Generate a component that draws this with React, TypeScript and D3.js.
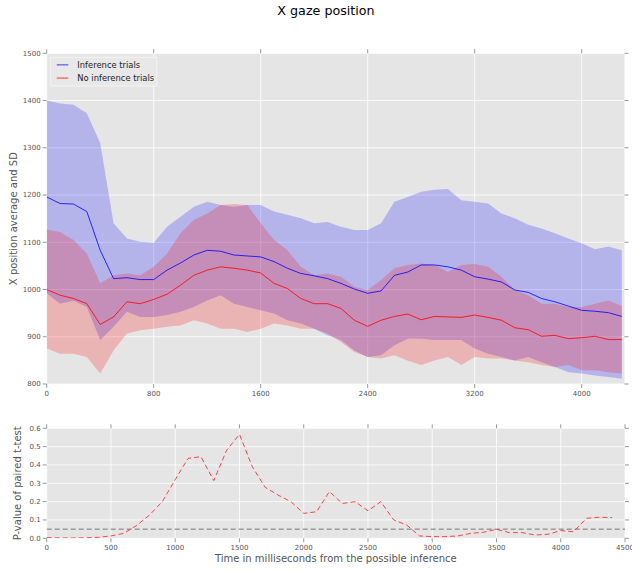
import React from "react";
import * as d3 from "d3";

// time in ms from the possible inference
const times = [
  0, 100, 200, 300, 400, 500, 600, 700, 800, 900, 1000, 1100, 1200, 1300, 1400,
  1500, 1600, 1700, 1800, 1900, 2000, 2100, 2200, 2300, 2400, 2500, 2600, 2700,
  2800, 2900, 3000, 3100, 3200, 3300, 3400, 3500, 3600, 3700, 3800, 3900, 4000,
  4100, 4200, 4300,
];

const infMean = [
  1196, 1182, 1181, 1165, 1083, 1023, 1025, 1021, 1021, 1041, 1056, 1073, 1083,
  1081, 1073, 1071, 1069, 1059, 1045, 1034, 1029, 1023, 1013, 1001, 992, 997,
  1030, 1037, 1052, 1052, 1048, 1041, 1027, 1022, 1016, 999, 994, 981, 974, 965,
  956, 954, 951, 943,
];
const infUpper = [
  1400, 1394, 1391, 1373, 1310, 1140, 1108, 1101, 1099, 1133, 1154, 1175, 1186,
  1179, 1175, 1179, 1179, 1165, 1158, 1151, 1140, 1143, 1133, 1126, 1126, 1140,
  1186, 1196, 1207, 1211, 1213, 1189, 1186, 1182, 1161, 1151, 1137, 1129, 1119,
  1108, 1098, 1085, 1091, 1083,
];
const infLower = [
  992, 970, 976, 963, 893, 921, 953, 942, 942, 946, 953, 963, 977, 988, 970, 963,
  956, 949, 935, 928, 917, 903, 893, 871, 857, 861, 882, 896, 896, 893, 893, 893,
  875, 864, 857, 850, 857, 846, 836, 825, 822, 818, 815, 811,
];

const noInfMean = [
  1000, 988, 981, 970, 926, 942, 974, 970, 979, 990, 1009, 1030, 1041, 1048,
  1045, 1041, 1035, 1013, 1002, 981, 970, 970, 960, 935, 922, 935, 943, 948, 936,
  943, 942, 941, 946, 941, 935, 919, 915, 901, 903, 896, 898, 901, 894, 894,
];
const noInfUpper = [
  1127, 1122, 1105, 1076, 1013, 1030, 1034, 1030, 1048, 1076, 1119, 1147, 1161,
  1179, 1181, 1179, 1140, 1105, 1083, 1048, 1030, 1034, 1027, 1006, 999, 1020,
  1045, 1052, 1055, 1052, 1037, 1052, 1054, 1048, 1027, 999, 988, 970, 970, 963,
  963, 970, 977, 965,
];
const noInfLower = [
  875, 864, 864, 857, 822, 871, 907, 914, 917, 921, 924, 935, 928, 917, 917, 910,
  917, 928, 924, 917, 917, 907, 889, 868, 857, 854, 861, 849, 840, 850, 857, 840,
  857, 854, 854, 850, 846, 840, 836, 840, 829, 829, 825, 822,
];

const pTimes = [
  0, 100, 200, 300, 400, 500, 600, 700, 800, 900, 1000, 1100, 1200, 1300, 1400,
  1500, 1600, 1700, 1800, 1900, 2000, 2100, 2200, 2300, 2400, 2500, 2600, 2700,
  2800, 2900, 3000, 3100, 3200, 3300, 3400, 3500, 3600, 3700, 3800, 3900, 4000,
  4100, 4200, 4300, 4400,
];
const pValues = [
  0.004, 0.002, 0.002, 0.003, 0.005, 0.013, 0.027, 0.07, 0.127, 0.2, 0.32, 0.436,
  0.445, 0.315, 0.48, 0.567, 0.39, 0.278, 0.236, 0.2, 0.136, 0.145, 0.255, 0.19,
  0.2, 0.15, 0.2, 0.1, 0.073, 0.013, 0.009, 0.009, 0.013, 0.027, 0.033, 0.049,
  0.031, 0.031, 0.018, 0.022, 0.042, 0.036, 0.109, 0.115, 0.113,
];
const alphaLevel = 0.05;

const topXTicks = [0, 800, 1600, 2400, 3200, 4000];
const topYTicks = [800, 900, 1000, 1100, 1200, 1300, 1400, 1500];
const botXTicks = [0, 500, 1000, 1500, 2000, 2500, 3000, 3500, 4000, 4500];
const botYTicks = [0.0, 0.1, 0.2, 0.3, 0.4, 0.5, 0.6];

const legendItems = [
  { label: "Inference trials", color: "#0000ff" },
  { label: "No inference trials", color: "#ff0000" },
];

const FONT = "DejaVu Sans, sans-serif";
const TICK = "#555555";
const BG = "#e5e5e5";

const top = { left: 46.7, right: 624.5, top: 53.3, bottom: 384 };
const bot = { left: 46.7, right: 625, top: 428.3, bottom: 538.3 };

type Frame = typeof top;

function Ticks({
  frame,
  x,
  y,
  xTicks,
  yTicks,
  yFmt,
}: {
  frame: Frame;
  x: d3.ScaleLinear<number, number>;
  y: d3.ScaleLinear<number, number>;
  xTicks: number[];
  yTicks: number[];
  yFmt: (v: number) => string;
}) {
  return (
    <g>
      {xTicks.map((t) => (
        <g key={"x" + t}>
          <line x1={x(t)} x2={x(t)} y1={frame.top} y2={frame.top - 4} stroke={TICK} strokeWidth={0.6} />
          <line x1={x(t)} x2={x(t)} y1={frame.bottom} y2={frame.bottom + 4} stroke={TICK} strokeWidth={0.6} />
          <text
            x={x(t)}
            y={frame.bottom + 11.5}
            textAnchor="middle"
            fontSize={7}
            fill={TICK}
            fontFamily={FONT}
          >
            {t}
          </text>
        </g>
      ))}
      {yTicks.map((t) => (
        <g key={"y" + t}>
          <line x1={frame.left} x2={frame.left - 4} y1={y(t)} y2={y(t)} stroke={TICK} strokeWidth={0.6} />
          <line x1={frame.right} x2={frame.right + 4} y1={y(t)} y2={y(t)} stroke={TICK} strokeWidth={0.6} />
          <text
            x={frame.left - 6}
            y={y(t)}
            dy="0.35em"
            textAnchor="end"
            fontSize={7}
            fill={TICK}
            fontFamily={FONT}
          >
            {yFmt(t)}
          </text>
        </g>
      ))}
    </g>
  );
}

function Grid({
  frame,
  x,
  y,
  xTicks,
  yTicks,
}: {
  frame: Frame;
  x: d3.ScaleLinear<number, number>;
  y: d3.ScaleLinear<number, number>;
  xTicks: number[];
  yTicks: number[];
}) {
  return (
    <g>
      <rect
        x={frame.left}
        y={frame.top}
        width={frame.right - frame.left}
        height={frame.bottom - frame.top}
        fill={BG}
      />
      {xTicks.map((t) => (
        <line key={"gx" + t} x1={x(t)} x2={x(t)} y1={frame.top} y2={frame.bottom} stroke="#ffffff" strokeWidth={0.8} />
      ))}
      {yTicks.map((t) => (
        <line key={"gy" + t} x1={frame.left} x2={frame.right} y1={y(t)} y2={y(t)} stroke="#ffffff" strokeWidth={0.8} />
      ))}
    </g>
  );
}

export default function App() {
  const x = d3.scaleLinear().domain([0, 4320]).range([top.left, top.right]);
  const y = d3.scaleLinear().domain([800, 1500]).range([top.bottom, top.top]);

  const px = d3.scaleLinear().domain([0, 4500]).range([bot.left, bot.right]);
  const py = d3.scaleLinear().domain([0, 0.6]).range([bot.bottom, bot.top]);

  const band = (lo: number[], hi: number[]) =>
    d3
      .area<number>()
      .x((_, i) => x(times[i]))
      .y0((_, i) => y(lo[i]))
      .y1((_, i) => y(hi[i]))(lo) as string;

  const line = (vals: number[]) =>
    d3
      .line<number>()
      .x((_, i) => x(times[i]))
      .y((v) => y(v))(vals) as string;

  const pLine = d3
    .line<number>()
    .x((_, i) => px(pTimes[i]))
    .y((v) => py(v))(pValues) as string;

  return (
    <svg
      width={632}
      height={570}
      style={{ position: "absolute", left: 0, top: 0, background: "#ffffff" }}
    >
      <text x={326} y={15} textAnchor="middle" fontSize={12.7} fontFamily={FONT} fill="#000">
        X gaze position
      </text>

      {/* top panel */}
      <Grid frame={top} x={x} y={y} xTicks={topXTicks} yTicks={topYTicks} />
      <defs>
        <clipPath id="clipTop">
          <rect x={top.left} y={top.top} width={top.right - top.left} height={top.bottom - top.top} />
        </clipPath>
        <clipPath id="clipBot">
          <rect x={bot.left} y={bot.top} width={bot.right - bot.left} height={bot.bottom - bot.top} />
        </clipPath>
      </defs>
      <g clipPath="url(#clipTop)">
        <path d={band(infLower, infUpper)} fill="#0000ff" fillOpacity={0.21} />
        <path d={band(noInfLower, noInfUpper)} fill="#ff0000" fillOpacity={0.21} />
        <path d={line(infMean)} fill="none" stroke="#0000ff" strokeOpacity={0.8} strokeWidth={1} />
        <path d={line(noInfMean)} fill="none" stroke="#ff0000" strokeOpacity={0.8} strokeWidth={1} />
      </g>
      <Ticks frame={top} x={x} y={y} xTicks={topXTicks} yTicks={topYTicks} yFmt={(v) => String(v)} />
      <text
        transform={`translate(17,${(top.top + top.bottom) / 2}) rotate(-90)`}
        textAnchor="middle"
        fontSize={10}
        fill={TICK}
        fontFamily={FONT}
      >
        X position average and SD
      </text>

      {/* legend */}
      <g>
        <rect x={50.7} y={57.3} width={106} height={28.7} fill="#e8e8e8" stroke="#f4f4f4" strokeWidth={1} />
        {legendItems.map((d, i) => (
          <g key={d.label}>
            <line
              x1={56.7}
              x2={68.3}
              y1={64.8 + i * 13.3}
              y2={64.8 + i * 13.3}
              stroke={d.color}
              strokeOpacity={0.5}
              strokeWidth={1.5}
            />
            <text x={77.3} y={64.8 + i * 13.3} dy="0.35em" fontSize={8.4} fontFamily={FONT} fill="#222">
              {d.label}
            </text>
          </g>
        ))}
      </g>

      {/* bottom panel */}
      <Grid frame={bot} x={px} y={py} xTicks={botXTicks} yTicks={botYTicks} />
      <g clipPath="url(#clipBot)">
        <line
          x1={bot.left}
          x2={bot.right}
          y1={py(alphaLevel)}
          y2={py(alphaLevel)}
          stroke="#777777"
          strokeDasharray="5,3"
          strokeWidth={1}
        />
        <path d={pLine} fill="none" stroke="#ff0000" strokeOpacity={0.7} strokeDasharray="5,3" strokeWidth={1} />
      </g>
      <Ticks frame={bot} x={px} y={py} xTicks={botXTicks} yTicks={botYTicks} yFmt={(v) => v.toFixed(1)} />
      <text
        transform={`translate(21,${(bot.top + bot.bottom) / 2}) rotate(-90)`}
        textAnchor="middle"
        fontSize={10}
        fill={TICK}
        fontFamily={FONT}
      >
        P-value of paired t-test
      </text>
      <text
        x={(bot.left + bot.right) / 2}
        y={562}
        textAnchor="middle"
        fontSize={10}
        fill={TICK}
        fontFamily={FONT}
      >
        Time in milliseconds from the possible inference
      </text>
    </svg>
  );
}
